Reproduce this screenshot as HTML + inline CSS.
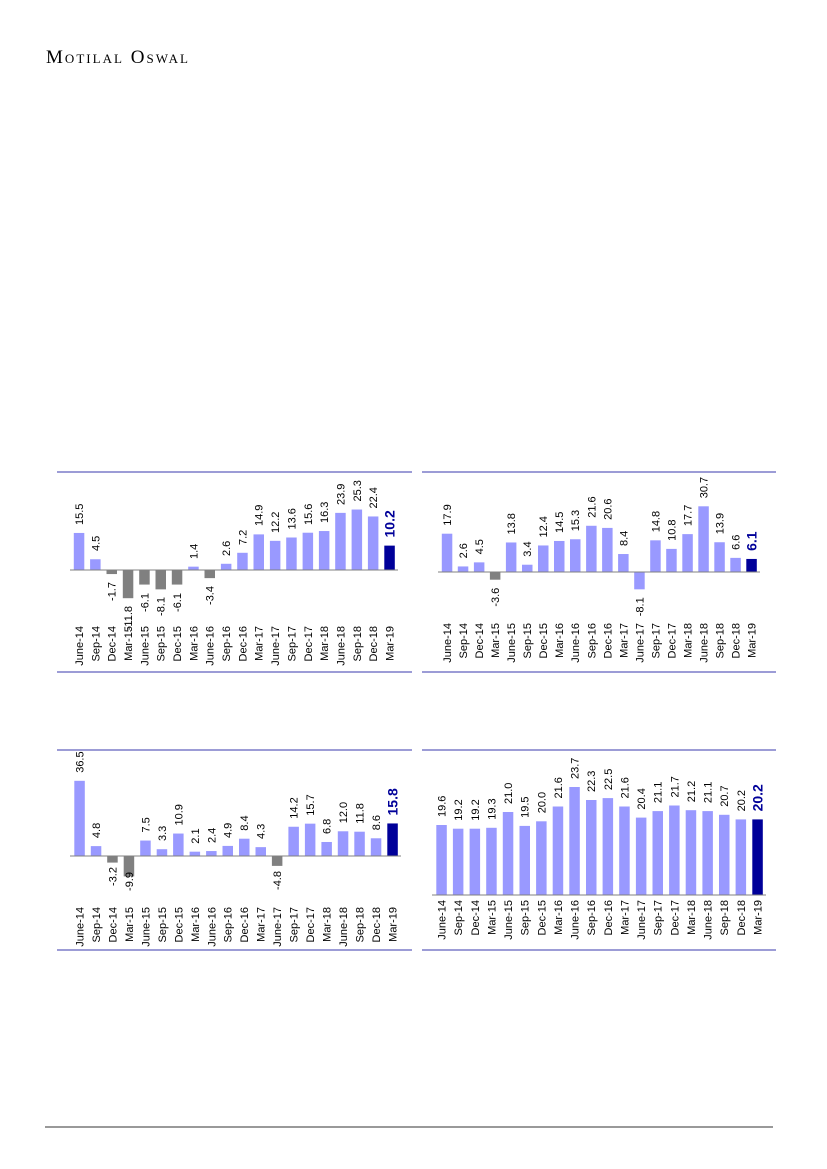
<!DOCTYPE html>
<html><head><meta charset="utf-8"><style>
html,body{margin:0;padding:0;background:#fff}
svg{display:block}
text{font-family:"Liberation Sans",sans-serif;font-size:11px;fill:#000}
.b{font-size:14px;font-weight:bold;fill:#000099}
.r{stroke:#7b7bc8;stroke-width:1.5}
.ax{stroke:#808080;stroke-width:1}
.l{fill:#9999ff}.g{fill:#808080}.d{fill:#000099}
</style></head><body>
<svg width="827" height="1169" viewBox="0 0 827 1169" xmlns="http://www.w3.org/2000/svg">
<text x="46" y="63" style="font-family:'Liberation Serif',serif;font-size:19px;font-variant:small-caps" textLength="142">Motilal Oswal</text>
<line x1="45" y1="1127" x2="773" y2="1127" stroke="#333" stroke-width="1"/>

<!-- rules -->
<line class="r" x1="57" y1="472" x2="412" y2="472"/><line class="r" x1="57" y1="672" x2="412" y2="672"/>
<line class="r" x1="422" y1="472" x2="776" y2="472"/><line class="r" x1="422" y1="672" x2="776" y2="672"/>
<line class="r" x1="57" y1="750" x2="412" y2="750"/><line class="r" x1="57" y1="950" x2="412" y2="950"/>
<line class="r" x1="422" y1="750" x2="776" y2="750"/><line class="r" x1="422" y1="950" x2="776" y2="950"/>

<!-- Chart 1 -->
<g transform="translate(0,570) scale(1,-2.39)">
<rect class="l" x="73.8" y="0" width="10.5" height="15.5"/>
<rect class="l" x="90.1" y="0" width="10.5" height="4.5"/>
<rect class="g" x="106.5" y="-1.7" width="10.5" height="1.7"/>
<rect class="g" x="122.8" y="-11.8" width="10.5" height="11.8"/>
<rect class="g" x="139.2" y="-6.1" width="10.5" height="6.1"/>
<rect class="g" x="155.5" y="-8.1" width="10.5" height="8.1"/>
<rect class="g" x="171.8" y="-6.1" width="10.5" height="6.1"/>
<rect class="l" x="188.2" y="0" width="10.5" height="1.4"/>
<rect class="g" x="204.5" y="-3.4" width="10.5" height="3.4"/>
<rect class="l" x="220.9" y="0" width="10.5" height="2.6"/>
<rect class="l" x="237.2" y="0" width="10.5" height="7.2"/>
<rect class="l" x="253.5" y="0" width="10.5" height="14.9"/>
<rect class="l" x="269.9" y="0" width="10.5" height="12.2"/>
<rect class="l" x="286.2" y="0" width="10.5" height="13.6"/>
<rect class="l" x="302.6" y="0" width="10.5" height="15.6"/>
<rect class="l" x="318.9" y="0" width="10.5" height="16.3"/>
<rect class="l" x="335.2" y="0" width="10.5" height="23.9"/>
<rect class="l" x="351.6" y="0" width="10.5" height="25.3"/>
<rect class="l" x="367.9" y="0" width="10.5" height="22.4"/>
<rect class="d" x="384.3" y="0" width="10.5" height="10.2"/>
</g>
<line class="ax" x1="70" y1="570" x2="398" y2="570"/>
<text transform="translate(83,525) rotate(-90)">15.5</text>
<text transform="translate(99.3,551) rotate(-90)">4.5</text>
<text transform="translate(115.7,582) rotate(-90)" text-anchor="end">-1.7</text>
<text transform="translate(132,606) rotate(-90)" text-anchor="end">-11.8</text>
<text transform="translate(148.4,593) rotate(-90)" text-anchor="end">-6.1</text>
<text transform="translate(164.7,597) rotate(-90)" text-anchor="end">-8.1</text>
<text transform="translate(181,593) rotate(-90)" text-anchor="end">-6.1</text>
<text transform="translate(197.4,559) rotate(-90)">1.4</text>
<text transform="translate(213.7,586) rotate(-90)" text-anchor="end">-3.4</text>
<text transform="translate(230.1,556) rotate(-90)">2.6</text>
<text transform="translate(246.4,545) rotate(-90)">7.2</text>
<text transform="translate(262.7,526) rotate(-90)">14.9</text>
<text transform="translate(279.1,533) rotate(-90)">12.2</text>
<text transform="translate(295.4,529.5) rotate(-90)">13.6</text>
<text transform="translate(311.8,525) rotate(-90)">15.6</text>
<text transform="translate(328.1,523) rotate(-90)">16.3</text>
<text transform="translate(344.4,505) rotate(-90)">23.9</text>
<text transform="translate(360.8,501.5) rotate(-90)">25.3</text>
<text transform="translate(377.1,508.5) rotate(-90)">22.4</text>
<text class="b" transform="translate(394.5,537.5) rotate(-90)">10.2</text>
<g text-anchor="end">
<text transform="translate(83,626) rotate(-90)">June-14</text>
<text transform="translate(99.3,626) rotate(-90)">Sep-14</text>
<text transform="translate(115.7,626) rotate(-90)">Dec-14</text>
<text transform="translate(132,626) rotate(-90)">Mar-15</text>
<text transform="translate(148.4,626) rotate(-90)">June-15</text>
<text transform="translate(164.7,626) rotate(-90)">Sep-15</text>
<text transform="translate(181,626) rotate(-90)">Dec-15</text>
<text transform="translate(197.4,626) rotate(-90)">Mar-16</text>
<text transform="translate(213.7,626) rotate(-90)">June-16</text>
<text transform="translate(230.1,626) rotate(-90)">Sep-16</text>
<text transform="translate(246.4,626) rotate(-90)">Dec-16</text>
<text transform="translate(262.7,626) rotate(-90)">Mar-17</text>
<text transform="translate(279.1,626) rotate(-90)">June-17</text>
<text transform="translate(295.4,626) rotate(-90)">Sep-17</text>
<text transform="translate(311.8,626) rotate(-90)">Dec-17</text>
<text transform="translate(328.1,626) rotate(-90)">Mar-18</text>
<text transform="translate(344.4,626) rotate(-90)">June-18</text>
<text transform="translate(360.8,626) rotate(-90)">Sep-18</text>
<text transform="translate(377.1,626) rotate(-90)">Dec-18</text>
<text transform="translate(393.5,626) rotate(-90)">Mar-19</text>
</g>

<!-- Chart 2 -->
<g transform="translate(0,572) scale(1,-2.14)">
<rect class="l" x="441.8" y="0" width="10.5" height="17.9"/>
<rect class="l" x="457.8" y="0" width="10.5" height="2.6"/>
<rect class="l" x="473.9" y="0" width="10.5" height="4.5"/>
<rect class="g" x="489.9" y="-3.6" width="10.5" height="3.6"/>
<rect class="l" x="505.9" y="0" width="10.5" height="13.8"/>
<rect class="l" x="522" y="0" width="10.5" height="3.4"/>
<rect class="l" x="538" y="0" width="10.5" height="12.4"/>
<rect class="l" x="554" y="0" width="10.5" height="14.5"/>
<rect class="l" x="570" y="0" width="10.5" height="15.3"/>
<rect class="l" x="586.1" y="0" width="10.5" height="21.6"/>
<rect class="l" x="602.1" y="0" width="10.5" height="20.6"/>
<rect class="l" x="618.1" y="0" width="10.5" height="8.4"/>
<rect class="l" x="634.2" y="-8.1" width="10.5" height="8.1"/>
<rect class="l" x="650.2" y="0" width="10.5" height="14.8"/>
<rect class="l" x="666.2" y="0" width="10.5" height="10.8"/>
<rect class="l" x="682.3" y="0" width="10.5" height="17.7"/>
<rect class="l" x="698.3" y="0" width="10.5" height="30.7"/>
<rect class="l" x="714.3" y="0" width="10.5" height="13.9"/>
<rect class="l" x="730.3" y="0" width="10.5" height="6.6"/>
<rect class="d" x="746.3" y="0" width="10.5" height="6.1"/>
</g>
<line class="ax" x1="438" y1="572" x2="760" y2="572"/>
<text transform="translate(451,525.7) rotate(-90)">17.9</text>
<text transform="translate(467,558.4) rotate(-90)">2.6</text>
<text transform="translate(483.1,554.4) rotate(-90)">4.5</text>
<text transform="translate(499.1,587.7) rotate(-90)" text-anchor="end">-3.6</text>
<text transform="translate(515.1,534.5) rotate(-90)">13.8</text>
<text transform="translate(531.2,556.7) rotate(-90)">3.4</text>
<text transform="translate(547.2,537.5) rotate(-90)">12.4</text>
<text transform="translate(563.2,533) rotate(-90)">14.5</text>
<text transform="translate(579.2,531.3) rotate(-90)">15.3</text>
<text transform="translate(595.3,517.8) rotate(-90)">21.6</text>
<text transform="translate(611.3,519.9) rotate(-90)">20.6</text>
<text transform="translate(627.3,546) rotate(-90)">8.4</text>
<text transform="translate(643.4,597.3) rotate(-90)" text-anchor="end">-8.1</text>
<text transform="translate(659.4,532.3) rotate(-90)">14.8</text>
<text transform="translate(675.4,540.9) rotate(-90)">10.8</text>
<text transform="translate(691.5,526.1) rotate(-90)">17.7</text>
<text transform="translate(707.5,498.3) rotate(-90)">30.7</text>
<text transform="translate(723.5,534.3) rotate(-90)">13.9</text>
<text transform="translate(739.5,549.9) rotate(-90)">6.6</text>
<text class="b" transform="translate(756.5,550.9) rotate(-90)">6.1</text>
<g text-anchor="end">
<text transform="translate(451,623) rotate(-90)">June-14</text>
<text transform="translate(467,623) rotate(-90)">Sep-14</text>
<text transform="translate(483.1,623) rotate(-90)">Dec-14</text>
<text transform="translate(499.1,623) rotate(-90)">Mar-15</text>
<text transform="translate(515.1,623) rotate(-90)">June-15</text>
<text transform="translate(531.2,623) rotate(-90)">Sep-15</text>
<text transform="translate(547.2,623) rotate(-90)">Dec-15</text>
<text transform="translate(563.2,623) rotate(-90)">Mar-16</text>
<text transform="translate(579.2,623) rotate(-90)">June-16</text>
<text transform="translate(595.3,623) rotate(-90)">Sep-16</text>
<text transform="translate(611.3,623) rotate(-90)">Dec-16</text>
<text transform="translate(627.3,623) rotate(-90)">Mar-17</text>
<text transform="translate(643.4,623) rotate(-90)">June-17</text>
<text transform="translate(659.4,623) rotate(-90)">Sep-17</text>
<text transform="translate(675.4,623) rotate(-90)">Dec-17</text>
<text transform="translate(691.5,623) rotate(-90)">Mar-18</text>
<text transform="translate(707.5,623) rotate(-90)">June-18</text>
<text transform="translate(723.5,623) rotate(-90)">Sep-18</text>
<text transform="translate(739.5,623) rotate(-90)">Dec-18</text>
<text transform="translate(755.5,623) rotate(-90)">Mar-19</text>
</g>

<!-- Chart 3 -->
<g transform="translate(0,856) scale(1,-2.06)">
<rect class="l" x="74.3" y="0" width="10.5" height="36.5"/>
<rect class="l" x="90.8" y="0" width="10.5" height="4.8"/>
<rect class="g" x="107.2" y="-3.2" width="10.5" height="3.2"/>
<rect class="g" x="123.7" y="-9.9" width="10.5" height="9.9"/>
<rect class="l" x="140.2" y="0" width="10.5" height="7.5"/>
<rect class="l" x="156.7" y="0" width="10.5" height="3.3"/>
<rect class="l" x="173.1" y="0" width="10.5" height="10.9"/>
<rect class="l" x="189.6" y="0" width="10.5" height="2.1"/>
<rect class="l" x="206.1" y="0" width="10.5" height="2.4"/>
<rect class="l" x="222.5" y="0" width="10.5" height="4.9"/>
<rect class="l" x="239" y="0" width="10.5" height="8.4"/>
<rect class="l" x="255.5" y="0" width="10.5" height="4.3"/>
<rect class="g" x="271.9" y="-4.8" width="10.5" height="4.8"/>
<rect class="l" x="288.4" y="0" width="10.5" height="14.2"/>
<rect class="l" x="304.9" y="0" width="10.5" height="15.7"/>
<rect class="l" x="321.4" y="0" width="10.5" height="6.8"/>
<rect class="l" x="337.8" y="0" width="10.5" height="12.0"/>
<rect class="l" x="354.3" y="0" width="10.5" height="11.8"/>
<rect class="l" x="370.8" y="0" width="10.5" height="8.6"/>
<rect class="d" x="387.3" y="0" width="10.5" height="15.8"/>
</g>
<line class="ax" x1="70" y1="856" x2="401" y2="856"/>
<text transform="translate(83.5,772.8) rotate(-90)">36.5</text>
<text transform="translate(100,838.1) rotate(-90)">4.8</text>
<text transform="translate(116.4,867) rotate(-90)" text-anchor="end">-3.2</text>
<text transform="translate(132.9,872) rotate(-90)" text-anchor="end">-9.9</text>
<text transform="translate(149.4,832.5) rotate(-90)">7.5</text>
<text transform="translate(165.9,841) rotate(-90)">3.3</text>
<text transform="translate(182.3,825.5) rotate(-90)">10.9</text>
<text transform="translate(198.8,843.7) rotate(-90)">2.1</text>
<text transform="translate(215.3,843) rotate(-90)">2.4</text>
<text transform="translate(231.7,838) rotate(-90)">4.9</text>
<text transform="translate(248.2,830.7) rotate(-90)">8.4</text>
<text transform="translate(264.7,839) rotate(-90)">4.3</text>
<text transform="translate(281.1,871) rotate(-90)" text-anchor="end">-4.8</text>
<text transform="translate(297.6,818.7) rotate(-90)">14.2</text>
<text transform="translate(314.1,815.7) rotate(-90)">15.7</text>
<text transform="translate(330.6,834) rotate(-90)">6.8</text>
<text transform="translate(347,823.3) rotate(-90)">12.0</text>
<text transform="translate(363.5,823.7) rotate(-90)">11.8</text>
<text transform="translate(380,830.3) rotate(-90)">8.6</text>
<text class="b" transform="translate(397.5,815.5) rotate(-90)">15.8</text>
<g text-anchor="end">
<text transform="translate(83.5,907) rotate(-90)">June-14</text>
<text transform="translate(100,907) rotate(-90)">Sep-14</text>
<text transform="translate(116.4,907) rotate(-90)">Dec-14</text>
<text transform="translate(132.9,907) rotate(-90)">Mar-15</text>
<text transform="translate(149.4,907) rotate(-90)">June-15</text>
<text transform="translate(165.9,907) rotate(-90)">Sep-15</text>
<text transform="translate(182.3,907) rotate(-90)">Dec-15</text>
<text transform="translate(198.8,907) rotate(-90)">Mar-16</text>
<text transform="translate(215.3,907) rotate(-90)">June-16</text>
<text transform="translate(231.7,907) rotate(-90)">Sep-16</text>
<text transform="translate(248.2,907) rotate(-90)">Dec-16</text>
<text transform="translate(264.7,907) rotate(-90)">Mar-17</text>
<text transform="translate(281.1,907) rotate(-90)">June-17</text>
<text transform="translate(297.6,907) rotate(-90)">Sep-17</text>
<text transform="translate(314.1,907) rotate(-90)">Dec-17</text>
<text transform="translate(330.6,907) rotate(-90)">Mar-18</text>
<text transform="translate(347,907) rotate(-90)">June-18</text>
<text transform="translate(363.5,907) rotate(-90)">Sep-18</text>
<text transform="translate(380,907) rotate(-90)">Dec-18</text>
<text transform="translate(396.5,907) rotate(-90)">Mar-19</text>
</g>

<!-- Chart 4 -->
<rect class="l" x="436.3" y="825" width="10.5" height="70"/>
<rect class="l" x="452.9" y="828.7" width="10.5" height="66.3"/>
<rect class="l" x="469.6" y="828.7" width="10.5" height="66.3"/>
<rect class="l" x="486.2" y="827.8" width="10.5" height="67.2"/>
<rect class="l" x="502.8" y="812" width="10.5" height="83"/>
<rect class="l" x="519.5" y="825.9" width="10.5" height="69.1"/>
<rect class="l" x="536.1" y="821.3" width="10.5" height="73.7"/>
<rect class="l" x="552.7" y="806.5" width="10.5" height="88.5"/>
<rect class="l" x="569.3" y="787" width="10.5" height="108"/>
<rect class="l" x="586" y="800" width="10.5" height="95"/>
<rect class="l" x="602.6" y="798.1" width="10.5" height="96.9"/>
<rect class="l" x="619.2" y="806.5" width="10.5" height="88.5"/>
<rect class="l" x="635.9" y="817.6" width="10.5" height="77.4"/>
<rect class="l" x="652.5" y="811.1" width="10.5" height="83.9"/>
<rect class="l" x="669.1" y="805.5" width="10.5" height="89.5"/>
<rect class="l" x="685.7" y="810.2" width="10.5" height="84.8"/>
<rect class="l" x="702.4" y="811.1" width="10.5" height="83.9"/>
<rect class="l" x="719" y="814.8" width="10.5" height="80.2"/>
<rect class="l" x="735.6" y="819.4" width="10.5" height="75.6"/>
<rect class="d" x="752.3" y="819.4" width="10.5" height="75.6"/>
<line class="ax" x1="432" y1="895" x2="766" y2="895"/>
<text transform="translate(445.5,817) rotate(-90)">19.6</text>
<text transform="translate(462.1,820.7) rotate(-90)">19.2</text>
<text transform="translate(478.8,820.7) rotate(-90)">19.2</text>
<text transform="translate(495.4,819.8) rotate(-90)">19.3</text>
<text transform="translate(512,804) rotate(-90)">21.0</text>
<text transform="translate(528.7,817.9) rotate(-90)">19.5</text>
<text transform="translate(545.3,813.3) rotate(-90)">20.0</text>
<text transform="translate(561.9,798.5) rotate(-90)">21.6</text>
<text transform="translate(578.5,779) rotate(-90)">23.7</text>
<text transform="translate(595.2,792) rotate(-90)">22.3</text>
<text transform="translate(611.8,790.1) rotate(-90)">22.5</text>
<text transform="translate(628.4,798.5) rotate(-90)">21.6</text>
<text transform="translate(645.1,809.6) rotate(-90)">20.4</text>
<text transform="translate(661.7,803.1) rotate(-90)">21.1</text>
<text transform="translate(678.3,797.5) rotate(-90)">21.7</text>
<text transform="translate(694.9,802.2) rotate(-90)">21.2</text>
<text transform="translate(711.6,803.1) rotate(-90)">21.1</text>
<text transform="translate(728.2,806.8) rotate(-90)">20.7</text>
<text transform="translate(744.8,811.4) rotate(-90)">20.2</text>
<text class="b" transform="translate(762.5,811.4) rotate(-90)">20.2</text>
<g text-anchor="end">
<text transform="translate(445.5,900) rotate(-90)">June-14</text>
<text transform="translate(462.1,900) rotate(-90)">Sep-14</text>
<text transform="translate(478.8,900) rotate(-90)">Dec-14</text>
<text transform="translate(495.4,900) rotate(-90)">Mar-15</text>
<text transform="translate(512,900) rotate(-90)">June-15</text>
<text transform="translate(528.7,900) rotate(-90)">Sep-15</text>
<text transform="translate(545.3,900) rotate(-90)">Dec-15</text>
<text transform="translate(561.9,900) rotate(-90)">Mar-16</text>
<text transform="translate(578.5,900) rotate(-90)">June-16</text>
<text transform="translate(595.2,900) rotate(-90)">Sep-16</text>
<text transform="translate(611.8,900) rotate(-90)">Dec-16</text>
<text transform="translate(628.4,900) rotate(-90)">Mar-17</text>
<text transform="translate(645.1,900) rotate(-90)">June-17</text>
<text transform="translate(661.7,900) rotate(-90)">Sep-17</text>
<text transform="translate(678.3,900) rotate(-90)">Dec-17</text>
<text transform="translate(694.9,900) rotate(-90)">Mar-18</text>
<text transform="translate(711.6,900) rotate(-90)">June-18</text>
<text transform="translate(728.2,900) rotate(-90)">Sep-18</text>
<text transform="translate(744.8,900) rotate(-90)">Dec-18</text>
<text transform="translate(761.5,900) rotate(-90)">Mar-19</text>
</g>
</svg>
</body></html>
